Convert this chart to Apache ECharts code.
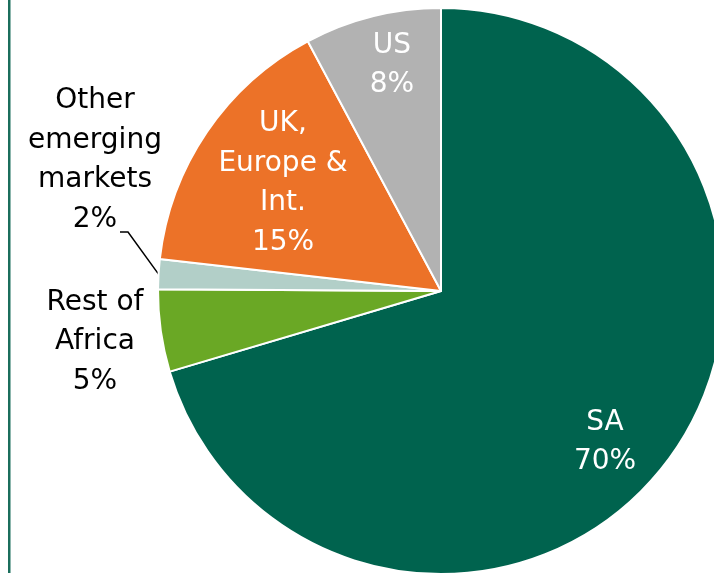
<!DOCTYPE html>
<html>
<head>
<meta charset="utf-8">
<script src="https://cdn.jsdelivr.net/npm/echarts@6/dist/echarts.min.js"></script>
<style>
  html, body { margin: 0; padding: 0; background: #fff; }
  #main { width: 714px; height: 573px; }
</style>
</head>
<body>
<div id="main"></div>
<script>
// data (slice sizes, labels show rounded %)
var categories = ['SA', 'Rest of\nAfrica', 'Other\nemerging\nmarkets', 'UK,\nEurope &\nInt.', 'US'];
var shares = [70.4, 4.7, 1.7, 15.4, 7.8];
var colors = ['#00634e', '#6aa825', '#b2cfc8', '#ec7228', '#b2b2b2'];
var textColors = ['#fff', '#000', '#000', '#fff', '#fff'];

// label centres (layout only)
var labelPos = [[605, 442], [95, 342], [95, 160], [283, 183], [392, 65]];

var chartDom = document.getElementById('main');
var myChart = echarts.init(chartDom);

var option = {
  animation: false,
  graphic: [{
    type: 'rect',
    shape: { x: 8, y: 0, width: 2.5, height: 573 },
    style: { fill: '#1b6e5c' }
  }],
  series: [{
    type: 'pie',
    center: [441, 291],
    radius: 283,
    startAngle: 90,
    clockwise: true,
    avoidLabelOverlap: false,
    itemStyle: { borderColor: '#fff', borderWidth: 2 },
    label: {
      show: true,
      position: 'inside',
      fontFamily: 'DejaVu Sans',
      fontSize: 28,
      lineHeight: 39.5,
      align: 'center',
      formatter: function (p) { return p.name + '\n' + Math.round(p.value) + '%'; }
    },
    labelLine: { show: false },
    labelLayout: function (params) {
      var i = params.dataIndex;
      var res = {
        x: labelPos[i][0],
        y: labelPos[i][1],
        align: 'center',
        verticalAlign: 'middle'
      };
      if (i === 2 && params.labelLinePoints) {
        var p0 = params.labelLinePoints[0];
        res.labelLinePoints = [p0, [128, 232], [120, 232]];
      }
      return res;
    },
    data: categories.map(function (c, i) {
      var d = {
        name: c,
        value: shares[i],
        itemStyle: { color: colors[i] },
        label: { color: textColors[i] }
      };
      if (i === 1 || i === 2) {
        d.label.position = 'outside';
      }
      if (i === 2) {
        d.labelLine = { show: true, length: 10, length2: 10, lineStyle: { color: '#000', width: 1.5 } };
      }
      return d;
    })
  }]
};

myChart.setOption(option);
</script>
</body>
</html>
